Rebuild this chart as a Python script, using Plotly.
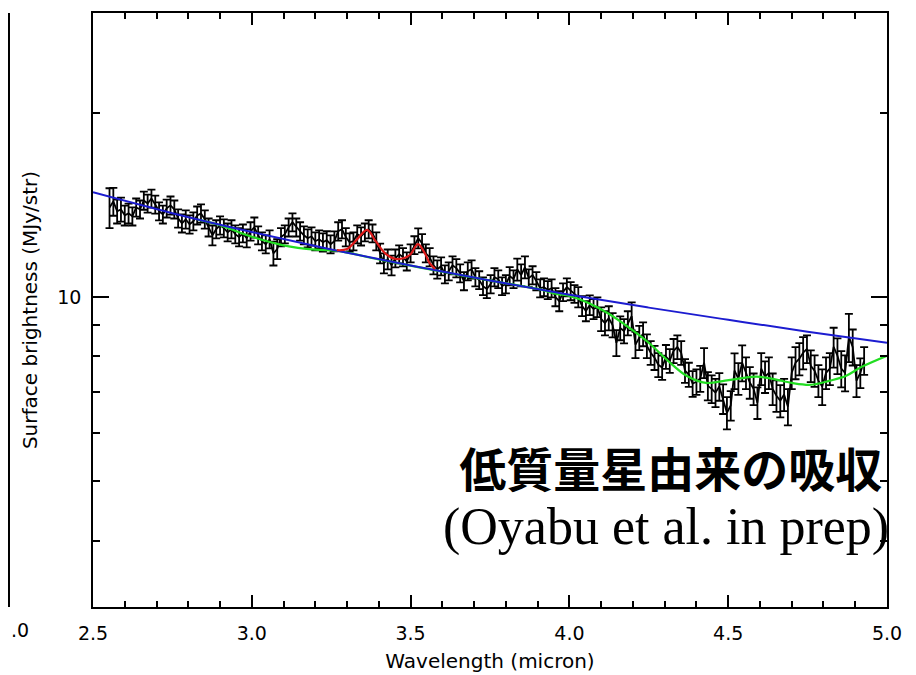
import plotly.graph_objects as go

# ---------------- data ----------------
wavelength = [
    2.552, 2.564, 2.576, 2.588, 2.600, 2.612, 2.624, 2.636, 2.648, 2.660,
    2.672, 2.684, 2.696, 2.708, 2.720, 2.732, 2.744, 2.756, 2.768, 2.780,
    2.792, 2.804, 2.816, 2.828, 2.840, 2.852, 2.864, 2.876, 2.888, 2.900,
    2.912, 2.924, 2.936, 2.948, 2.960, 2.972, 2.984, 2.996, 3.008, 3.020,
    3.032, 3.044, 3.056, 3.068, 3.080, 3.092, 3.104, 3.116, 3.128, 3.140,
    3.152, 3.164, 3.176, 3.188, 3.200, 3.212, 3.224, 3.236, 3.248, 3.260,
    3.272, 3.284, 3.296, 3.308, 3.320, 3.332, 3.344, 3.356, 3.368, 3.380,
    3.392, 3.404, 3.416, 3.428, 3.440, 3.452, 3.464, 3.476, 3.488, 3.500,
    3.512, 3.524, 3.536, 3.548, 3.560, 3.572, 3.584, 3.596, 3.608, 3.620,
    3.632, 3.644, 3.656, 3.668, 3.680, 3.692, 3.704, 3.716, 3.728, 3.740,
    3.752, 3.764, 3.776, 3.788, 3.800, 3.812, 3.824, 3.836, 3.848, 3.860,
    3.872, 3.884, 3.896, 3.908, 3.920, 3.932, 3.944, 3.956, 3.968, 3.980,
    3.992, 4.004, 4.016, 4.028, 4.040, 4.052, 4.064, 4.076, 4.088, 4.100,
    4.112, 4.124, 4.136, 4.148, 4.160, 4.172, 4.184, 4.196, 4.208, 4.220,
    4.232, 4.244, 4.256, 4.268, 4.280, 4.292, 4.304, 4.316, 4.328, 4.340,
    4.352, 4.364, 4.376, 4.388, 4.400, 4.412, 4.424, 4.436, 4.448, 4.460,
    4.472, 4.484, 4.496, 4.508, 4.520, 4.532, 4.544, 4.556, 4.568, 4.580,
    4.592, 4.604, 4.616, 4.628, 4.640, 4.652, 4.664, 4.676, 4.688, 4.700,
    4.712, 4.724, 4.736, 4.748, 4.760, 4.772, 4.784, 4.796, 4.808, 4.820,
    4.832, 4.844, 4.856, 4.868, 4.880, 4.892, 4.904, 4.916, 4.928,
]

surface_brightness = [
    14.01, 14.33, 13.81, 13.91, 13.60, 13.70, 13.55, 14.01, 13.91, 14.38,
    14.22, 14.49, 14.17, 13.81, 13.65, 13.96, 14.12, 13.91, 13.45, 13.20,
    13.40, 13.15, 13.30, 13.60, 13.70, 13.40, 13.00, 12.62, 12.91, 13.10,
    12.96, 12.76, 12.91, 12.67, 12.53, 12.71, 12.48, 12.81, 13.00, 12.62,
    12.34, 12.20, 12.43, 11.79, 11.98, 12.53, 12.67, 13.00, 13.25, 13.00,
    12.81, 12.62, 12.48, 12.57, 12.34, 12.43, 12.29, 12.39, 12.20, 12.34,
    12.81, 12.91, 12.53, 12.29, 12.34, 12.67, 12.57, 12.76, 12.91, 12.71,
    12.34, 11.79, 11.36, 11.53, 11.27, 11.57, 11.75, 11.62, 11.44, 11.79,
    12.16, 12.48, 12.25, 11.79, 11.62, 11.27, 11.10, 11.23, 10.90, 11.02,
    11.27, 11.15, 10.94, 10.62, 11.02, 11.10, 10.78, 10.66, 10.42, 10.31,
    10.50, 10.78, 10.70, 10.42, 10.50, 10.82, 10.70, 11.10, 10.86, 11.19,
    10.74, 10.86, 10.62, 10.34, 10.38, 10.27, 10.34, 10.00, 9.85, 10.19,
    10.38, 10.23, 10.12, 10.00, 9.67, 9.49, 9.70, 9.56, 9.63, 9.21,
    9.07, 9.24, 9.00, 8.42, 8.90, 8.80, 9.07, 9.31, 8.36, 8.58,
    8.70, 8.32, 8.11, 7.96, 7.75, 7.67, 7.99, 7.87, 8.17, 8.29,
    8.11, 7.58, 7.47, 7.22, 7.27, 7.36, 7.81, 7.16, 7.08, 6.98,
    7.14, 6.82, 6.47, 6.65, 7.58, 7.36, 7.81, 7.52, 7.25, 7.08,
    6.72, 7.64, 7.41, 7.52, 7.08, 6.90, 6.77, 6.93, 6.62, 7.52,
    7.81, 7.93, 8.11, 8.23, 7.72, 7.58, 7.30, 7.14, 7.52, 7.64,
    8.29, 8.02, 7.64, 7.52, 8.61, 8.29, 7.30, 7.52, 7.87,
]

error = [
    1.05, 0.75, 0.62, 0.63, 0.51, 0.51, 0.46, 0.48, 0.47, 0.49,
    0.48, 0.49, 0.48, 0.47, 0.46, 0.47, 0.48, 0.47, 0.46, 0.45,
    0.46, 0.45, 0.45, 0.46, 0.47, 0.46, 0.44, 0.47, 0.44, 0.45,
    0.44, 0.43, 0.44, 0.43, 0.43, 0.43, 0.42, 0.44, 0.49, 0.43,
    0.42, 0.41, 0.42, 0.53, 0.45, 0.43, 0.43, 0.44, 0.45, 0.44,
    0.44, 0.43, 0.42, 0.43, 0.42, 0.42, 0.42, 0.42, 0.41, 0.46,
    0.44, 0.44, 0.43, 0.42, 0.42, 0.43, 0.43, 0.43, 0.44, 0.43,
    0.42, 0.44, 0.43, 0.43, 0.42, 0.39, 0.40, 0.40, 0.39, 0.40,
    0.41, 0.47, 0.42, 0.40, 0.40, 0.38, 0.38, 0.38, 0.37, 0.37,
    0.38, 0.38, 0.37, 0.36, 0.37, 0.38, 0.37, 0.36, 0.35, 0.35,
    0.36, 0.37, 0.36, 0.35, 0.36, 0.37, 0.36, 0.46, 0.45, 0.46,
    0.36, 0.37, 0.36, 0.35, 0.35, 0.35, 0.35, 0.34, 0.37, 0.34,
    0.35, 0.35, 0.34, 0.38, 0.36, 0.36, 0.36, 0.36, 0.36, 0.41,
    0.41, 0.42, 0.41, 0.41, 0.40, 0.40, 0.41, 0.49, 0.41, 0.39,
    0.39, 0.37, 0.36, 0.36, 0.35, 0.35, 0.36, 0.35, 0.37, 0.37,
    0.36, 0.34, 0.34, 0.35, 0.35, 0.36, 0.44, 0.38, 0.37, 0.37,
    0.37, 0.38, 0.39, 0.37, 0.51, 0.44, 0.53, 0.45, 0.43, 0.42,
    0.40, 0.46, 0.44, 0.45, 0.42, 0.41, 0.41, 0.42, 0.45, 0.45,
    0.47, 0.48, 0.49, 0.43, 0.46, 0.45, 0.44, 0.48, 0.45, 0.46,
    0.62, 0.54, 0.52, 0.51, 0.78, 0.56, 0.44, 0.42, 0.41,
]

# power-law continuum (blue)
continuum_wl = [2.50, 2.75, 3.00, 3.25, 3.50, 3.75, 4.00, 4.25, 4.50, 4.75, 5.00]
continuum_val = [14.83, 13.71, 12.77, 11.96, 11.26, 10.64, 10.09, 9.61, 9.18, 8.78, 8.42]

# absorption model (green)
absorb_wl = [2.83, 2.90, 3.00, 3.10, 3.20, 3.27, 3.40, 3.60, 3.80, 3.90, 3.96,
             4.00, 4.06, 4.12, 4.19, 4.25, 4.31, 4.37, 4.43, 4.49, 4.55,
             4.59, 4.64, 4.70, 4.76, 4.82, 4.87, 4.92, 5.00]
absorb_val = [13.38, 13.10, 12.55, 12.15, 11.95, 11.90, 11.52, 11.00, 10.53, 10.31, 10.12,
              10.04, 9.78, 9.42, 8.90, 8.42, 7.87, 7.43, 7.24, 7.30, 7.38,
              7.41, 7.35, 7.24, 7.19, 7.30, 7.43, 7.69, 8.02]

# emission features (red)
emission_wl = [3.268, 3.300, 3.330, 3.363, 3.390, 3.420, 3.450, 3.480, 3.500,
               3.523, 3.545, 3.560, 3.577]
emission_val = [11.93, 11.98, 12.40, 12.88, 12.34, 11.79, 11.55, 11.58, 11.75,
                12.20, 11.79, 11.36, 11.12]

x_ticks = [2.5, 3.0, 3.5, 4.0, 4.5, 5.0]
x_ticktext = ["2.5", "3.0", "3.5", "4.0", "4.5", "5.0"]
y_ticks = [10]
y_ticktext = ["10"]
y_minor = [4, 5, 6, 7, 8, 9, 20]

note_jp = "低質量星由来の吸収"
note_en = "(Oyabu et al. in prep)"

label_font = "DejaVu Sans"

fig = go.Figure()

fig.add_trace(go.Scatter(
    x=wavelength, y=surface_brightness, mode="lines",
    line=dict(color="black", width=1.8),
    error_y=dict(type="data", array=error, visible=True, color="black",
                 thickness=1.8, width=4),
    showlegend=False,
))
fig.add_trace(go.Scatter(
    x=absorb_wl, y=absorb_val, mode="lines",
    line=dict(color="#22dd22", width=2.2, shape="spline"),
    showlegend=False,
))
fig.add_trace(go.Scatter(
    x=continuum_wl, y=continuum_val, mode="lines",
    line=dict(color="#1c1cd0", width=2, shape="spline"),
    showlegend=False,
))
fig.add_trace(go.Scatter(
    x=emission_wl, y=emission_val, mode="lines",
    line=dict(color="#dd1a1a", width=2.2, shape="spline"),
    showlegend=False,
))

# the page body adds an 8px offset; size the figure to fit the window
fig.update_layout(
    width=908, height=667,
    margin=dict(l=85, r=29, t=3, b=68),
    paper_bgcolor="white", plot_bgcolor="white",
    font=dict(family=label_font, color="black", size=19),
)

fig.update_xaxes(
    range=[2.5, 5.0], tickvals=x_ticks, ticktext=x_ticktext,
    ticks="inside", ticklen=12, tickwidth=1.5, tickcolor="black",
    minor=dict(dtick=0.1, ticks="inside", ticklen=6, tickwidth=1.5, tickcolor="black", showgrid=False),
    showline=True, linecolor="black", linewidth=1.5, mirror="ticks",
    showgrid=False, zeroline=False,
    tickfont=dict(size=19, family=label_font),
    ticklabelstandoff=8,
    title=dict(text="Wavelength (micron)", font=dict(size=20, family=label_font), standoff=11),
)
fig.update_yaxes(
    type="log", range=[0.4935, 1.4642],
    tickvals=y_ticks, ticktext=y_ticktext,
    ticks="inside", ticklen=16, tickwidth=1.5, tickcolor="black",
    minor=dict(tickvals=y_minor, ticks="inside", ticklen=7, tickwidth=1.5, tickcolor="black", showgrid=False),
    showline=True, linecolor="black", linewidth=1.5, mirror="ticks",
    showgrid=False, zeroline=False,
    tickfont=dict(size=19, family=label_font),
    ticklabelstandoff=6,
    title=dict(text="Surface brightness (MJy/str)", font=dict(size=20, family=label_font), standoff=14),
)

note_text = (
    '<span style="font-family:Noto Sans CJK JP;font-size:47px"><b>' + note_jp + '</b></span>'
    '<span style="font-family:Liberation Serif;font-size:28px">&nbsp;</span>'
    '<br><span style="font-family:Liberation Serif;font-size:52px">' + note_en + '</span>'
)
fig.add_annotation(
    text=note_text, xref="paper", yref="paper",
    x=1.005, y=0.19, xanchor="right", yanchor="middle", align="right",
    showarrow=False,
    font=dict(family="Liberation Serif", size=44, color="black"),
)

# remnant of neighbouring panel at far left
fig.add_shape(type="line", xref="paper", yref="paper",
              x0=-0.1058, x1=-0.1058, y0=0, y1=1.0,
              line=dict(color="black", width=2))
fig.add_annotation(
    text=".0", xref="paper", yref="paper",
    x=-0.1064, y=-0.038, xanchor="left", yanchor="middle", showarrow=False,
    font=dict(family=label_font, size=19, color="black"),
)

fig.write_html("out.html")
